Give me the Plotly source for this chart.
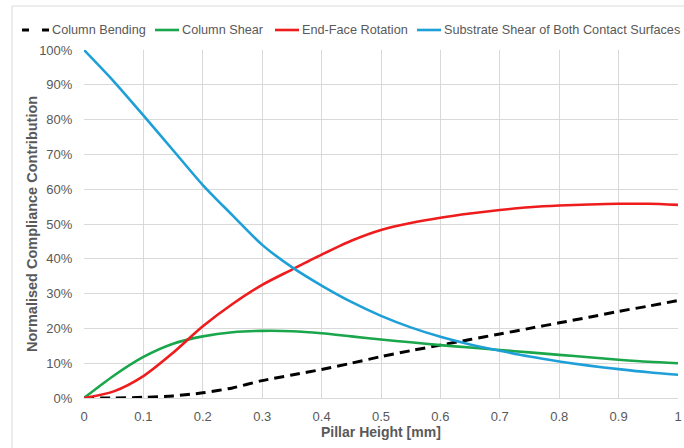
import plotly.graph_objects as go

# ---- data ----
pillar_height = [0, 0.05, 0.1, 0.15, 0.2, 0.25, 0.3, 0.35, 0.4, 0.45, 0.5,
                 0.55, 0.6, 0.65, 0.7, 0.75, 0.8, 0.85, 0.9, 0.95, 1.0]
column_bending = [0, 0, 0.2, 0.6, 1.5, 2.9, 5.0, 6.6, 8.2, 10.0, 11.9,
                  13.6, 15.2, 16.8, 18.4, 20.0, 21.6, 23.2, 24.9, 26.4, 28.0]
column_shear = [0, 6.4, 11.8, 15.6, 17.7, 18.9, 19.3, 19.2, 18.6, 17.7, 16.8,
                16.0, 15.2, 14.5, 13.8, 13.1, 12.4, 11.7, 11.0, 10.4, 10.0]
end_face_rotation = [0, 1.9, 6.3, 13.0, 20.6, 27.0, 32.5, 36.9, 41.2, 45.2, 48.3,
                     50.3, 51.8, 53.0, 54.0, 54.8, 55.3, 55.6, 55.8, 55.8, 55.5]
substrate_shear = [100, 91.0, 81.2, 71.2, 61.2, 52.5, 44.0, 37.6, 32.3, 27.6, 23.6,
                   20.3, 17.6, 15.4, 13.6, 11.9, 10.5, 9.3, 8.3, 7.4, 6.7]

series_names = ["Column Bending", "Column Shear", "End-Face Rotation",
                "Substrate Shear of Both Contact Surfaces"]
series_values = [column_bending, column_shear, end_face_rotation, substrate_shear]
series_colors = ["#000000", "#1aa64a", "#ee1c1c", "#1e9fd8"]
series_dash = ["10px,6px", "solid", "solid", "solid"]
series_width = [3, 2.6, 2.6, 2.6]

x_tickvals = [0, 0.1, 0.2, 0.3, 0.4, 0.5, 0.6, 0.7, 0.8, 0.9, 1.0]
x_ticktext = ["0", "0.1", "0.2", "0.3", "0.4", "0.5", "0.6", "0.7", "0.8", "0.9", "1"]
y_tickvals = [0, 10, 20, 30, 40, 50, 60, 70, 80, 90, 100]
y_ticktext = ["0%", "10%", "20%", "30%", "40%", "50%", "60%", "70%", "80%", "90%", "100%"]

x_title = "Pillar Height [mm]"
y_title = "Normalised Compliance Contribution"

# ---- layout geometry ----
W, H = 684, 448
ML, MR, MT, MB = 84, 6, 50, 50
PW, PH = W - ML - MR, H - MT - MB


def px(xp):
    return (xp - ML) / PW


def py(yp):
    return (H - MB - yp) / PH


FONT = "Liberation Sans, Arial, sans-serif"
GREY = "#595959"

fig = go.Figure()
for name, vals, col, dash, w in zip(series_names, series_values, series_colors,
                                    series_dash, series_width):
    fig.add_trace(go.Scatter(
        x=pillar_height, y=vals, name=name, mode="lines",
        line=dict(color=col, width=w, dash=dash, shape="spline", smoothing=0.8),
        showlegend=False,
    ))

# manual legend (Excel-like compact layout)
legend_line_x = [(22, 49), (155, 179), (275, 299), (417, 441)]
legend_text_x = [50, 180, 300, 442]
legend_y = 30
shapes = []
annotations = []
for name, col, dash, w, (x0, x1), tx in zip(series_names, series_colors, series_dash,
                                            series_width, legend_line_x, legend_text_x):
    d = "7px,13px" if dash != "solid" else "solid"
    shapes.append(dict(type="line", xref="paper", yref="paper",
                       x0=px(x0), x1=px(x1), y0=py(legend_y), y1=py(legend_y),
                       line=dict(color=col, width=w, dash=d)))
    annotations.append(dict(text=name, xref="paper", yref="paper",
                            x=px(tx), y=py(legend_y), xanchor="left", yanchor="middle",
                            showarrow=False, font=dict(family=FONT, size=12.7, color=GREY)))

# axis titles
annotations.append(dict(text="<b>%s</b>" % x_title, xref="paper", yref="paper",
                        x=0.5, y=py(432), xanchor="center", yanchor="middle",
                        showarrow=False, font=dict(family=FONT, size=14, color=GREY)))
annotations.append(dict(text="<b>%s</b>" % y_title, xref="paper", yref="paper",
                        x=px(32), y=0.5, xanchor="center", yanchor="middle", textangle=-90,
                        showarrow=False, font=dict(family=FONT, size=14.5, color=GREY)))

# outer chart-area border
shapes.append(dict(type="rect", xref="paper", yref="paper",
                   x0=px(12), x1=px(700), y0=py(6), y1=py(470),
                   line=dict(color="#d9d9d9", width=1), fillcolor="rgba(0,0,0,0)",
                   layer="below"))

fig.update_layout(
    width=W, height=H,
    margin=dict(l=ML, r=MR, t=MT, b=MB, autoexpand=False),
    paper_bgcolor="white", plot_bgcolor="white",
    font=dict(family=FONT, size=13, color=GREY),
    shapes=shapes, annotations=annotations,
    showlegend=False,
)
fig.update_xaxes(range=[0, 1], tickvals=x_tickvals, ticktext=x_ticktext,
                 automargin=False,
                 showgrid=True, gridcolor="#d9d9d9", gridwidth=1,
                 showline=True, linecolor="#d9d9d9", linewidth=1,
                 zeroline=False, ticks="outside", ticklen=6, tickcolor="rgba(0,0,0,0)",
                 tickfont=dict(family=FONT, size=13, color=GREY), fixedrange=True)
fig.update_yaxes(range=[0, 100], tickvals=y_tickvals, ticktext=y_ticktext,
                 automargin=False,
                 showgrid=True, gridcolor="#d9d9d9", gridwidth=1,
                 showline=False, zeroline=False,
                 ticks="outside", ticklen=8, tickcolor="rgba(0,0,0,0)",
                 tickfont=dict(family=FONT, size=13, color=GREY), fixedrange=True)

fig.write_html("out.html", config={"displayModeBar": False},
               post_script="document.body.style.margin='0';document.body.style.padding='0';")
